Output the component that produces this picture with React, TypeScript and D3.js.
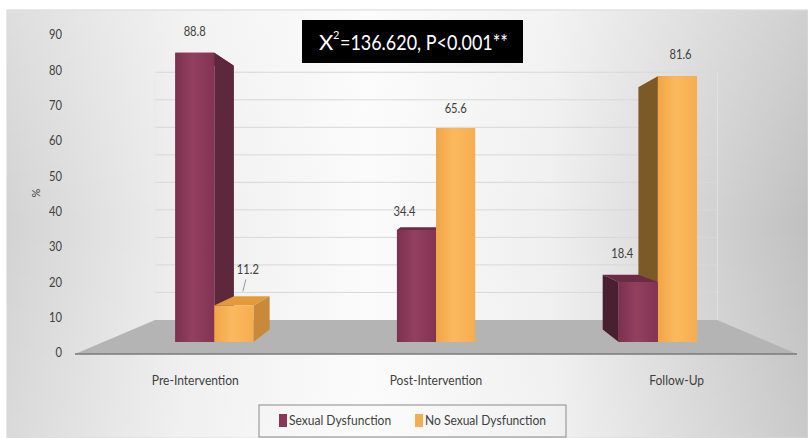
import React from "react";
import * as d3 from "d3";

// ---- data ----
const categories = ["Pre-Intervention", "Post-Intervention", "Follow-Up"];
const seriesNames = ["Sexual Dysfunction", "No Sexual Dysfunction"];
const sexualDysfunction = [88.8, 34.4, 18.4];
const noSexualDysfunction = [11.2, 65.6, 81.6];
const yTicks = [0, 10, 20, 30, 40, 50, 60, 70, 80, 90];
const statText = { base: "X", sup: "2", rest: "=136.620, P<0.001**" };

// ---- layout ----
const W = 808;
const H = 438;
const VX = 437; // vanishing point
const VY = 200;
const T_FLOOR = 0.284; // floor depth (perspective units)
const T_BAR0 = 0.085; // bar front depth
const T_BAR1 = 0.19; // bar back depth
const GROUP_HALF = 42.5;

// label nudges per [category][series], relative to bar top centre
const labelNudge = [
  [[0, -20], [14, -35]],
  [[-12, -17], [0, -19]],
  [[-16, -27], [3, -20]],
];

const FONT = "Lato, 'Open Sans', sans-serif";

const palette = [
  { front: ["#7c3050", "#93405e", "#823353"], top: "#6c2b45", sideR: "#5e283c", sideL: "#4a1f30", swatch: "#8a3757" },
  { front: ["#f1a545", "#fbb95f", "#f6ae4e"], top: "#e39b3a", sideR: "#c8893a", sideL: "#7b5a27", swatch: "#f4ad52" },
];

const yScale = d3.scaleLinear().domain([0, 90]).range([354, 36]);
const xBand = d3.scaleBand<string>().domain(categories).range([75, 797]);
const inner = d3.scaleBand<string>().domain(seriesNames).range([-GROUP_HALF, GROUP_HALF]);

function project(x: number, v: number, t: number): [number, number] {
  const s = 1 / (1 + t);
  return [VX + (x - VX) * s, VY + (yScale(v) - VY) * s];
}

const poly = (pts: [number, number][]) => "M" + pts.map((p) => p.join(",")).join("L") + "Z";

// horizontally condensed text, anchored at (x, y)
function NText(props: {
  x: number;
  y: number;
  size: number;
  anchor?: "start" | "middle" | "end";
  fill?: string;
  sx?: number;
  children: React.ReactNode;
}) {
  const { x, y, size, anchor = "middle", fill = "#404040", sx = 0.86, children } = props;
  return (
    <g transform={`translate(${x},${y}) scale(${sx},1)`}>
      <text x={0} y={0} fontSize={size} fill={fill} textAnchor={anchor} dominantBaseline="middle">
        {children}
      </text>
    </g>
  );
}

export default function App() {
  const seriesValues = [sexualDysfunction, noSexualDysfunction];

  type Bar = { ci: number; si: number; x0: number; x1: number; v: number; cx: number };
  const bars: Bar[] = [];
  categories.forEach((c, ci) => {
    const center = (xBand(c) as number) + xBand.bandwidth() / 2;
    seriesNames.forEach((s, si) => {
      const x0 = center + (inner(s) as number);
      const x1 = x0 + inner.bandwidth();
      bars.push({ ci, si, x0, x1, v: seriesValues[si][ci], cx: (x0 + x1) / 2 });
    });
  });
  // painter's order: bars farther from the vanishing line drawn first
  const ordered = [...bars].sort((a, b) => Math.abs(b.cx - VX) - Math.abs(a.cx - VX));

  const floorPts: [number, number][] = [
    project(75, 0, 0),
    project(797, 0, 0),
    project(797, 0, T_FLOOR),
    project(75, 0, T_FLOOR),
  ];

  const backLeft = project(75, 0, T_FLOOR);
  const backRight = project(797, 0, T_FLOOR);
  const backRightTop = project(797, 90, T_FLOOR);

  return (
    <svg width={W} height={H} style={{ position: "absolute", left: 0, top: 0, fontFamily: FONT }}>
      <defs>
        <linearGradient id="bg" x1="0" x2="1" y1="0" y2="0">
          <stop offset="0" stopColor="#d3d3d3" />
          <stop offset="0.22" stopColor="#eeeeee" />
          <stop offset="0.45" stopColor="#fbfbfb" />
          <stop offset="0.68" stopColor="#efefef" />
          <stop offset="1" stopColor="#c0c0c0" />
        </linearGradient>
        <linearGradient id="bgv" x1="0" x2="0" y1="0" y2="1">
          <stop offset="0" stopColor="#ffffff" stopOpacity="0.25" />
          <stop offset="0.5" stopColor="#ffffff" stopOpacity="0" />
          <stop offset="1" stopColor="#ffffff" stopOpacity="0.15" />
        </linearGradient>
        {palette.map((p, i) => (
          <linearGradient key={i} id={`front${i}`} x1="0" x2="1" y1="0" y2="0">
            <stop offset="0" stopColor={p.front[0]} />
            <stop offset="0.45" stopColor={p.front[1]} />
            <stop offset="1" stopColor={p.front[2]} />
          </linearGradient>
        ))}
      </defs>

      {/* chart area */}
      <rect x={7} y={10} width={W - 7} height={H - 10} fill="url(#bg)" stroke="#d2d2d2" />
      <rect x={7} y={10} width={W - 7} height={H - 10} fill="url(#bgv)" />

      {/* back wall gridlines */}
      <g stroke="#d8d8d8" strokeWidth={1}>
        {yTicks.slice(1).map((t) => {
          const a = project(75, t, T_FLOOR);
          const b = project(797, t, T_FLOOR);
          return <line key={t} x1={a[0]} y1={a[1]} x2={b[0]} y2={b[1]} />;
        })}
        <line x1={backRight[0]} y1={backRight[1]} x2={backRightTop[0]} y2={backRightTop[1]} stroke="#e2e2e2" />
        <line x1={backLeft[0]} y1={backLeft[1]} x2={backLeft[0]} y2={project(75, 90, T_FLOOR)[1]} stroke="#e8e8e8" />
      </g>

      {/* floor */}
      <path d={poly(floorPts)} fill="#b4b4b4" />
      <line
        x1={floorPts[0][0]}
        y1={floorPts[0][1]}
        x2={floorPts[1][0]}
        y2={floorPts[1][1]}
        stroke="#7a7a7a"
        strokeWidth={1.5}
      />

      {/* bars */}
      {ordered.map((b) => {
        const p = palette[b.si];
        const rightSide = b.cx < VX;
        const sx = rightSide ? b.x1 : b.x0;
        const front = poly([project(b.x0, 0, T_BAR0), project(b.x1, 0, T_BAR0), project(b.x1, b.v, T_BAR0), project(b.x0, b.v, T_BAR0)]);
        const top = poly([project(b.x0, b.v, T_BAR0), project(b.x1, b.v, T_BAR0), project(b.x1, b.v, T_BAR1), project(b.x0, b.v, T_BAR1)]);
        const side = poly([project(sx, 0, T_BAR0), project(sx, 0, T_BAR1), project(sx, b.v, T_BAR1), project(sx, b.v, T_BAR0)]);
        return (
          <g key={`${b.ci}-${b.si}`}>
            <path d={top} fill={p.top} />
            <path d={side} fill={rightSide ? p.sideR : p.sideL} />
            <path d={front} fill={`url(#front${b.si})`} />
          </g>
        );
      })}

      {/* value labels */}
      {bars.map((b) => {
        const [tx, ty] = project(b.cx, b.v, T_BAR0);
        const [dx, dy] = labelNudge[b.ci][b.si];
        const lx = tx + dx;
        const ly = ty + dy;
        const leader = Math.abs(dy) > 30;
        return (
          <g key={`l${b.ci}-${b.si}`}>
            {leader && <line x1={lx - 2} y1={ly + 9} x2={lx - 5} y2={ly + 21} stroke="#808080" strokeWidth={0.8} />}
            <NText x={lx} y={ly} size={13}>
              {b.v.toFixed(1)}
            </NText>
          </g>
        );
      })}

      {/* y axis */}
      {yTicks.map((t) => (
        <NText key={t} x={62} y={yScale(t)} size={13} anchor="end">
          {t}
        </NText>
      ))}
      <g transform="translate(37,193) rotate(-90)">
        <text fontSize={11} fill="#404040" textAnchor="middle" dominantBaseline="middle">
          %
        </text>
      </g>

      {/* category labels */}
      {categories.map((c) => (
        <NText key={c} x={(xBand(c) as number) + xBand.bandwidth() / 2} y={381} size={14}>
          {c}
        </NText>
      ))}

      {/* statistic box */}
      <rect x={302} y={20} width={221} height={43} fill="#000" />
      <text x={319} y={50} fill="#fff" fontSize={22}>
        {statText.base}
      </text>
      <text x={333} y={39} fill="#fff" fontSize={11}>
        {statText.sup}
      </text>
      <text x={340} y={50} fill="#fff" fontSize={22} textLength={168} lengthAdjust="spacingAndGlyphs">
        {statText.rest}
      </text>

      {/* legend */}
      <rect x={259} y={405} width={307} height={32} fill="none" stroke="#8a8a8a" strokeWidth={1} />
      {seriesNames.map((s, i) => {
        const lx = [279, 415][i];
        return (
          <g key={s}>
            <rect x={lx} y={414} width={8} height={13} fill={palette[i].swatch} />
            <NText x={lx + 10} y={421} size={14} anchor="start">
              {s}
            </NText>
          </g>
        );
      })}
    </svg>
  );
}
